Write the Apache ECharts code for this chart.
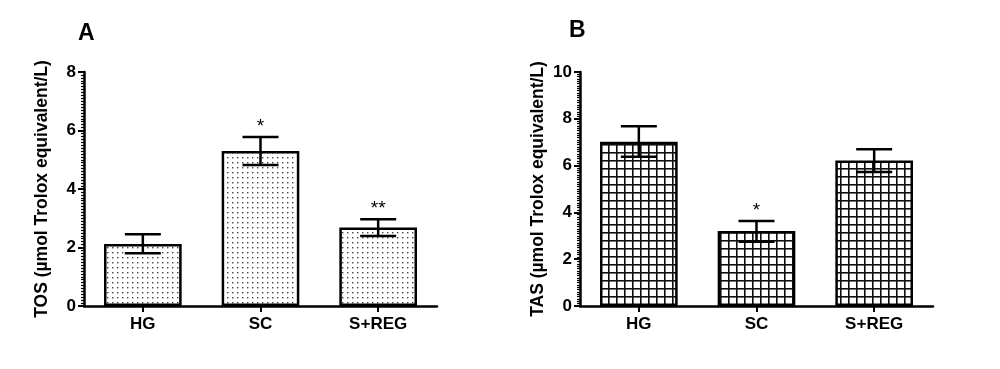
<!DOCTYPE html>
<html><head><meta charset="utf-8">
<script src="https://cdn.jsdelivr.net/npm/echarts@6/dist/echarts.min.js"></script>
<style>html,body{margin:0;padding:0;background:#fff}#c{width:1000px;height:369px}</style>
</head><body><div id="c"></div>
<script>
const categories = ['HG', 'SC', 'S+REG'];
const tosMean = [2.12, 5.30, 2.68];
const tosUpper = [2.45, 5.78, 2.97];
const tosLower = [1.80, 4.82, 2.39];
const tosStars = ['', '*', '**'];
const tasMean = [7.02, 3.21, 6.22];
const tasUpper = [7.68, 3.63, 6.70];
const tasLower = [6.38, 2.75, 5.73];
const tasStars = ['', '*', ''];

function dotPattern() {
  const c = document.createElement('canvas'); c.width = 5; c.height = 5;
  const g = c.getContext('2d');
  g.fillStyle = '#fff'; g.fillRect(0, 0, 5, 5);
  g.fillStyle = '#444'; g.fillRect(2, 2, 1.4, 1.4);
  return c;
}
function gridPattern() {
  const c = document.createElement('canvas'); c.width = 8; c.height = 8;
  const g = c.getContext('2d');
  g.fillStyle = '#fff'; g.fillRect(0, 0, 8, 8);
  g.fillStyle = '#111'; g.fillRect(0, 0, 8, 1.6); g.fillRect(0, 0, 1.6, 8);
  return c;
}

const FONT = 'Liberation Sans, Arial, sans-serif';
const chart = echarts.init(document.getElementById('c'), null, {renderer: 'canvas'});

function yAxis(gi, max, name) {
  return {
    gridIndex: gi, type: 'value', min: 0, max: max, interval: 2,
    name: name, nameLocation: 'middle', nameGap: 33, nameRotate: 90,
    nameTextStyle: {fontFamily: FONT, fontWeight: 'bold', fontSize: 17.5, color: '#000'},
    axisLine: {show: true, lineStyle: {color: '#000', width: 2.5}},
    axisTick: {show: true, length: 6, lineStyle: {color: '#000', width: 2}},
    minorTick: {show: true, splitNumber: 20, length: 3, lineStyle: {color: '#000', width: 1.2}},
    splitLine: {show: false},
    axisLabel: {fontFamily: FONT, fontWeight: 'bold', fontSize: 17, color: '#000', margin: 8}
  };
}
function xAxis(gi) {
  return {
    gridIndex: gi, type: 'category', data: categories,
    axisLine: {show: true, lineStyle: {color: '#000', width: 2.5}},
    axisTick: {show: true, alignWithLabel: true, length: 6, lineStyle: {color: '#000', width: 2}},
    axisLabel: {fontFamily: FONT, fontWeight: 'bold', fontSize: 17, color: '#000', margin: 10}
  };
}
function errSeries(gi, upper, lower, stars) {
  return {
    type: 'custom', xAxisIndex: gi, yAxisIndex: gi, z: 5,
    data: categories.map((c, i) => [i, upper[i], lower[i]]),
    renderItem: function (params, api) {
      const hi = api.coord([api.value(0), api.value(1)]);
      const lo = api.coord([api.value(0), api.value(2)]);
      const w = 18;
      const st = {stroke: '#000', lineWidth: 2.5};
      const children = [
        {type: 'line', shape: {x1: hi[0], y1: hi[1], x2: lo[0], y2: lo[1]}, style: st},
        {type: 'line', shape: {x1: hi[0] - w, y1: hi[1], x2: hi[0] + w, y2: hi[1]}, style: st},
        {type: 'line', shape: {x1: lo[0] - w, y1: lo[1], x2: lo[0] + w, y2: lo[1]}, style: st}
      ];
      const s = stars[params.dataIndex];
      if (s) children.push({type: 'text', style: {text: s, x: hi[0], y: hi[1] - 1, align: 'center', verticalAlign: 'bottom', fontFamily: FONT, fontSize: 19, fill: '#000'}});
      return {type: 'group', children: children};
    }
  };
}
function barSeries(gi, data, pat) {
  return {
    type: 'bar', xAxisIndex: gi, yAxisIndex: gi, data: data, barWidth: '66%',
    itemStyle: {color: {image: pat, repeat: 'repeat'}, borderColor: '#000', borderWidth: 2.5},
    silent: true
  };
}

chart.setOption({
  animation: false,
  backgroundColor: '#fff',
  title: [
    {text: 'A', left: 73, top: 17, textStyle: {fontFamily: FONT, fontWeight: 'bold', fontSize: 23, color: '#000'}},
    {text: 'B', left: 564, top: 14, textStyle: {fontFamily: FONT, fontWeight: 'bold', fontSize: 23, color: '#000'}}
  ],
  grid: [
    {left: 84, top: 72, width: 353, height: 234},
    {left: 580, top: 72, width: 353, height: 234}
  ],
  xAxis: [xAxis(0), xAxis(1)],
  yAxis: [yAxis(0, 8, 'TOS (µmol Trolox equivalent/L)'), yAxis(1, 10, 'TAS (µmol Trolox equivalent/L)')],
  series: [
    barSeries(0, tosMean, dotPattern()),
    errSeries(0, tosUpper, tosLower, tosStars),
    barSeries(1, tasMean, gridPattern()),
    errSeries(1, tasUpper, tasLower, tasStars)
  ]
});
</script></body></html>
